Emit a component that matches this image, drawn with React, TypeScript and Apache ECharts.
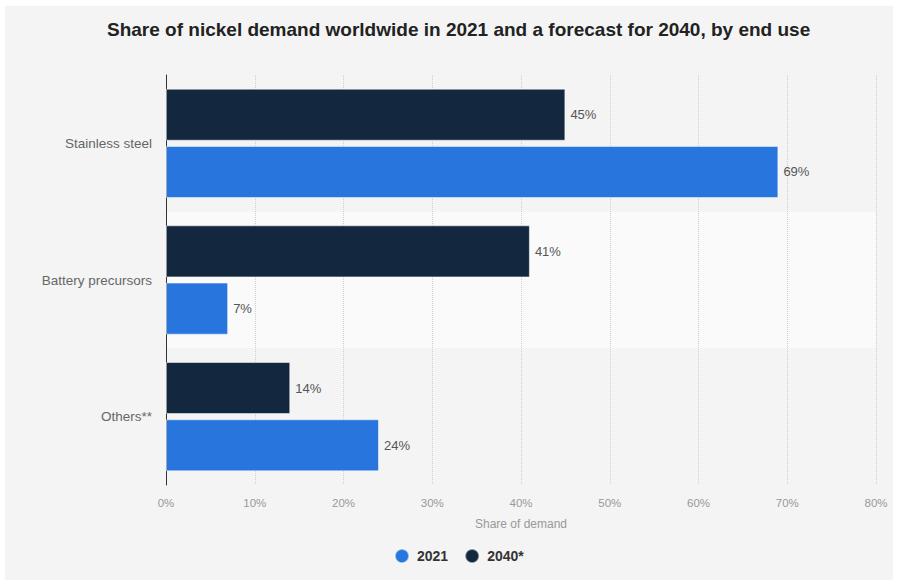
import React, { useEffect, useRef } from "react";
import * as echarts from "echarts";

const categories = ["Others**", "Battery precursors", "Stainless steel"];
const values2021 = [24, 7, 69];
const values2040 = [14, 41, 45];
const seriesNames = ["2021", "2040*"];

export default function App() {
  const ref = useRef<HTMLDivElement>(null);
  useEffect(() => {
    if (!ref.current) return;
    const chart = echarts.init(ref.current, undefined, { renderer: "svg" });
    const font = "Arial, 'Liberation Sans', Helvetica, sans-serif";
    const label = { show: true, position: "right", distance: 5, formatter: "{c}%", color: "#555", fontSize: 13, fontFamily: font };
    chart.setOption({
      animation: false,
      textStyle: { fontFamily: font },
      graphic: [
        {
          type: "rect",
          shape: { x: 5, y: 6, width: 888, height: 574 },
          style: { fill: "#f4f4f4" },
          z: -10,
          silent: true,
        },
      ],
      title: {
        text: "Share of nickel demand worldwide in 2021 and a forecast for 2040, by end use",
        left: 102,
        top: 15,
        textStyle: { fontSize: 19, fontWeight: "bold", color: "#222", fontFamily: font },
      },
      legend: {
        data: seriesNames,
        left: 389,
        top: 543,
        icon: "circle",
        itemWidth: 14,
        itemHeight: 14,
        itemGap: 16,
        textStyle: { fontSize: 14, fontWeight: "bold", color: "#333", fontFamily: font, padding: [0, 0, 0, 3] },
      },
      grid: { left: 166, right: 21, top: 75, bottom: 95 },
      xAxis: {
        type: "value",
        min: 0,
        max: 80,
        interval: 10,
        name: "Share of demand",
        nameLocation: "middle",
        nameGap: 33,
        nameTextStyle: { color: "#999", fontSize: 12, fontFamily: font },
        axisLine: { show: false },
        axisTick: { show: false },
        axisLabel: { formatter: "{value}%", color: "#999", fontSize: 11.5, margin: 12, fontFamily: font },
        splitLine: { show: true, lineStyle: { color: "#cfcfcf", type: "dotted", width: 1 } },
      },
      yAxis: {
        type: "category",
        data: categories,
        axisLine: { show: true, lineStyle: { color: "#333", width: 1 } },
        axisTick: { show: false },
        axisLabel: { color: "#666", fontSize: 13.5, margin: 14, fontFamily: font },
        splitLine: { show: false },
        splitArea: { show: true, areaStyle: { color: ["rgba(0,0,0,0)", "#fafafa"] } },
      },
      series: [
        {
          name: seriesNames[1],
          type: "bar",
          data: values2040,
          barCategoryGap: "20%",
          barGap: "10%",
          itemStyle: { color: "#13283f", borderColor: "rgba(255,255,255,0.5)", borderWidth: 1 },
          label,
        },
        {
          name: seriesNames[0],
          type: "bar",
          data: values2021,
          barCategoryGap: "20%",
          barGap: "10%",
          itemStyle: { color: "#2775dd", borderColor: "rgba(255,255,255,0.5)", borderWidth: 1 },
          label,
        },
      ],
    });
    return () => chart.dispose();
  }, []);
  return (
    <div
      ref={ref}
      style={{ position: "absolute", left: 0, top: 0, width: 897, height: 580, background: "#fff" }}
    />
  );
}
